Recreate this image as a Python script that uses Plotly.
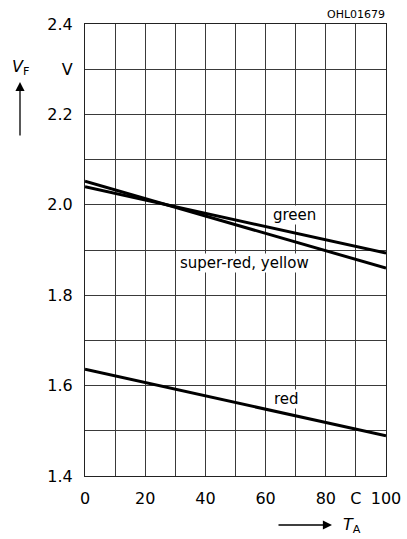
import plotly.graph_objects as go

temps = [0, 100]
green = [2.040, 1.893]
super_red_yellow = [2.052, 1.860]
red = [1.636, 1.489]

x_tickvals = [0, 20, 40, 60, 80, 90, 100]
x_ticktext = ["0", "20", "40", "60", "80", "C", "100"]
y_tickvals = [1.4, 1.6, 1.8, 2.0, 2.2, 2.3, 2.4]
y_ticktext = ["1.4", "1.6", "1.8", "2.0", "2.2", "V", "2.4"]

FONT = "DejaVu Sans"
W, H = 407, 539
# plot box in window pixels: left 85, right 386, top 24, bottom 476
L, T = 85, 24
R, B = W - 386, H - 476
pw, ph = W - L - R, H - T - B

def px(x):
    return (x - L) / pw

def py(y):
    return (H - B - y) / ph

fig = go.Figure()
for name, vals in [("green", green), ("super-red, yellow", super_red_yellow), ("red", red)]:
    fig.add_trace(go.Scatter(x=temps, y=vals, mode="lines", name=name,
                             line=dict(color="black", width=3), showlegend=False,
                             hoverinfo="skip"))

grid_col = "#3a3a3a"
fig.update_xaxes(range=[0, 100], tickvals=x_tickvals, ticktext=x_ticktext,
                 showgrid=True, gridcolor=grid_col, gridwidth=1,
                 minor=dict(dtick=10, tick0=0, showgrid=True, gridcolor=grid_col, gridwidth=1),
                 showline=True, mirror=True, linecolor="#222", linewidth=1,
                 zeroline=False, ticks="", ticklabelstandoff=8, automargin=False,
                 tickfont=dict(family=FONT, size=16, color="black"))
fig.update_yaxes(range=[1.4, 2.4], tickvals=y_tickvals, ticktext=y_ticktext,
                 showgrid=True, gridcolor=grid_col, gridwidth=1,
                 minor=dict(dtick=0.1, tick0=1.4, showgrid=True, gridcolor=grid_col, gridwidth=1),
                 showline=True, mirror=True, linecolor="#222", linewidth=1,
                 zeroline=False, ticks="", ticklabelstandoff=8, automargin=False,
                 tickfont=dict(family=FONT, size=16, color="black"))

annots = [
    dict(x=69.5, y=1.977, xref="x", yref="y", text="green"),
    dict(x=53, y=1.871, xref="x", yref="y", text="super-red, yellow"),
    dict(x=67, y=1.570, xref="x", yref="y", text="red"),
]
for a in annots:
    fig.add_annotation(**a, showarrow=False, bgcolor="white",
                       xanchor="center", yanchor="middle",
                       font=dict(family=FONT, size=15, color="black"), borderpad=0)

# axis titles
fig.add_annotation(x=px(20), y=py(67), xref="paper", yref="paper",
                   text="<i>V</i><sub>F</sub>", showarrow=False,
                   xanchor="center", yanchor="middle",
                   font=dict(family=FONT, size=16, color="black"))
fig.add_annotation(x=px(20), y=py(82), xref="paper", yref="paper", text="",
                   showarrow=True, ax=0, ay=55, arrowhead=2, arrowsize=1.4,
                   arrowwidth=1.3, arrowcolor="black")
fig.add_annotation(x=px(352), y=py(525), xref="paper", yref="paper",
                   text="<i>T</i><sub>A</sub>", showarrow=False,
                   xanchor="center", yanchor="middle",
                   font=dict(family=FONT, size=16, color="black"))
fig.add_annotation(x=px(332), y=py(525), xref="paper", yref="paper", text="",
                   showarrow=True, ax=-55, ay=0, arrowhead=2, arrowsize=1.4,
                   arrowwidth=1.3, arrowcolor="black")
fig.add_annotation(x=px(387), y=py(14), xref="paper", yref="paper",
                   text="OHL01679", showarrow=False, xanchor="right", yanchor="middle",
                   font=dict(family=FONT, size=11, color="black"))

fig.update_layout(width=W, height=H, margin=dict(l=L, r=R, t=T, b=B, autoexpand=False),
                  paper_bgcolor="white", plot_bgcolor="white")

fig.write_html("out.html", config={"displayModeBar": False},
               post_script="document.body.style.margin='0';"
                           "document.body.style.padding='0';"
                           "document.documentElement.style.overflow='hidden';"
                           "document.body.style.overflow='hidden';")
